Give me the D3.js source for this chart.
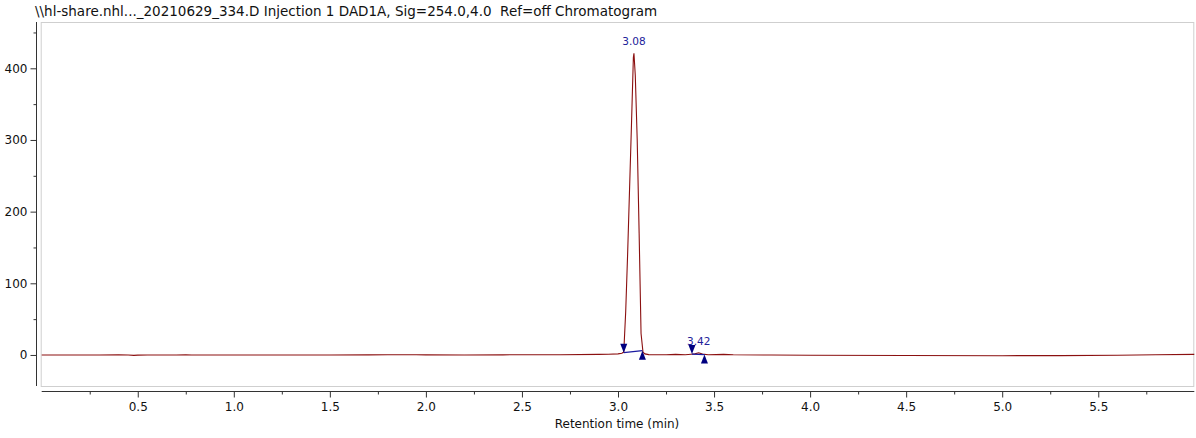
<!DOCTYPE html>
<html>
<head>
<meta charset="utf-8">
<script src="https://cdn.jsdelivr.net/npm/d3@7.9.0/dist/d3.min.js"></script>
<style>
  body { margin: 0; background: #fff; }
  svg { display: block; font-family: "DejaVu Sans", Verdana, sans-serif; }
</style>
</head>
<body>
<svg id="chart" width="1196" height="438"></svg>
<script>
// chromatogram trace (time in min, signal in mAU)
const traceTimes = [0.00, 0.10, 0.20, 0.30, 0.40, 0.45, 0.48, 0.50, 0.55, 0.70, 0.75, 0.78, 1.00, 1.25,
  1.50, 1.70, 1.80, 1.90, 1.95, 2.00, 2.20, 2.40, 2.45, 2.50, 2.70, 2.90, 2.95, 3.00, 3.02, 3.03,
  3.04, 3.05, 3.06, 3.07, 3.08, 3.083, 3.09, 3.10, 3.11, 3.12, 3.13, 3.14, 3.16, 3.25, 3.30, 3.35,
  3.38, 3.40, 3.42, 3.44, 3.47, 3.55, 3.60, 3.80, 4.00, 4.50, 5.00, 5.30, 5.60, 5.80, 6.00];
const traceValues = [0.0, 0.0, 0.0, 0.0, 0.1, 0.0, -0.6, -0.2, 0.0, 0.0, 0.4, 0.0, 0.0, 0.0,
  0.0, 0.1, 0.4, 0.3, 0.4, 0.1, 0.0, 0.1, 0.4, 0.2, 0.3, 0.8, 1.0, 1.5, 2.5, 4.0,
  60, 140, 230, 320, 415, 421, 390, 300, 170, 30, 4, 1.5, 0.5, 0.4, 0.8, 0.3,
  1.0, 1.5, 3.0, 1.2, 0.3, 0.8, 0.2, 0.0, -0.4, -0.8, -1.0, -0.9, -0.3, 0.3, 0.8];

// integrated peaks
const peakLabels = ["3.08", "3.42"];
const peakTimes = [3.083, 3.42];
const peakHeights = [421, 3.0];
const baseStartTimes = [3.03, 3.385];
const baseStartValues = [3.2, 1.3];
const baseEndTimes = [3.127, 3.45];
const baseEndValues = [6.0, 0.5];

const xTicks = [0.5, 1.0, 1.5, 2.0, 2.5, 3.0, 3.5, 4.0, 4.5, 5.0, 5.5];
const yTicks = [0, 100, 200, 300, 400];

const titleText = "\\\\hl-share.nhl..._20210629_334.D Injection 1 DAD1A, Sig=254.0,4.0  Ref=off Chromatogram";
const xTitle = "Retention time (min)";

const svg = d3.select("#chart");
const plot = { left: 41.7, right: 1194.3, top: 22, bottom: 386 };

const x = d3.scaleLinear().domain([0, 6.0]).range([plot.left, plot.right]);
const y = d3.scaleLinear().domain([-43.3, 464.6]).range([plot.bottom, plot.top]);

// title
svg.append("text")
  .attr("x", 35).attr("y", 16)
  .attr("font-size", 13.5).attr("fill", "#111")
  .style("white-space", "pre")
  .text(titleText);

// frame
svg.append("rect")
  .attr("x", plot.left - 0.5).attr("y", plot.top + 0.5)
  .attr("width", plot.right - plot.left).attr("height", plot.bottom - plot.top)
  .attr("fill", "none").attr("stroke", "#cfcfcf");

// y axis
const yAxisG = svg.append("g").attr("transform", "translate(36.5,0)");
yAxisG.call(d3.axisLeft(y).tickValues(yTicks).tickFormat(d3.format("d")).tickSize(6).tickSizeOuter(0));
yAxisG.append("g").call(d3.axisLeft(y).tickValues(d3.range(-0, 451, 50).filter(v => v % 100 !== 0)).tickFormat("").tickSize(3).tickSizeOuter(0))
  .select(".domain").remove();
yAxisG.select(".domain").attr("d", `M0,${plot.top}V${plot.bottom}`);

// x axis
const xAxisG = svg.append("g").attr("transform", "translate(0,391.5)");
xAxisG.call(d3.axisBottom(x).tickValues(xTicks).tickFormat(d3.format(".1f")).tickSize(6).tickSizeOuter(0));
xAxisG.append("g").call(d3.axisBottom(x).tickValues(d3.range(0.25, 6, 0.5)).tickFormat("").tickSize(3).tickSizeOuter(0))
  .select(".domain").remove();
xAxisG.select(".domain").attr("d", `M${plot.left},0H${plot.right}`);

svg.selectAll(".tick text").attr("font-size", 12).attr("font-family", "DejaVu Sans, sans-serif").attr("fill", "#111");
svg.selectAll(".domain, .tick line").attr("stroke", "#333");
xAxisG.selectAll(".tick text").attr("dy", "0.9em");

svg.append("text")
  .attr("x", 617).attr("y", 428)
  .attr("text-anchor", "middle")
  .attr("font-size", 12).attr("fill", "#111")
  .text(xTitle);

// trace
const trace = traceTimes.map((t, i) => [t, traceValues[i]]);
svg.append("path")
  .datum(trace)
  .attr("fill", "none")
  .attr("stroke", "#8b1010")
  .attr("stroke-width", 1.1)
  .attr("d", d3.line().x(d => x(d[0])).y(d => y(d[1])));

// integration baselines and markers
const peaks = peakLabels.map((label, i) => ({
  label, rt: peakTimes[i], h: peakHeights[i],
  s: baseStartTimes[i], sv: baseStartValues[i], e: baseEndTimes[i], ev: baseEndValues[i]
}));

const marks = svg.append("g");
marks.selectAll("line.base").data(peaks).enter().append("line")
  .attr("class", "base")
  .attr("x1", d => x(d.s)).attr("y1", d => y(d.sv))
  .attr("x2", d => x(d.e)).attr("y2", d => y(d.ev))
  .attr("stroke", "#1a1aa0").attr("stroke-width", 1.2);

marks.selectAll("path.start").data(peaks).enter().append("path")
  .attr("class", "start")
  .attr("d", d => { const px = x(d.s), py = y(d.sv); return `M${px - 3.5},${py - 9}L${px + 3.5},${py - 9}L${px},${py}Z`; })
  .attr("fill", "#000080");

marks.selectAll("path.end").data(peaks).enter().append("path")
  .attr("class", "end")
  .attr("d", d => { const px = x(d.e), py = y(d.ev); return `M${px},${py}L${px + 3.5},${py + 9}L${px - 3.5},${py + 9}Z`; })
  .attr("fill", "#000080");

marks.selectAll("text").data(peaks).enter().append("text")
  .attr("x", d => x(d.rt)).attr("y", d => y(d.h) - 8)
  .attr("text-anchor", "middle")
  .attr("font-size", 10.5).attr("fill", "#22229a")
  .text(d => d.label);
</script>
</body>
</html>
